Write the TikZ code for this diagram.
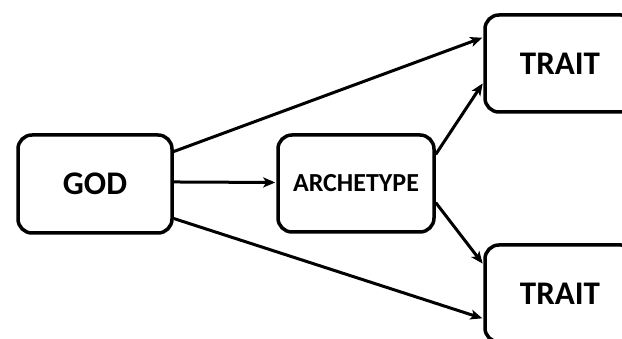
\documentclass[tikz,border=0pt]{standalone}
\usepackage{fontspec}
\setmainfont{Carlito}
\usetikzlibrary{arrows.meta,calc}

\tikzset{
  box/.style={draw=black, line width=3.5pt, rounded corners=14pt, fill=white,
              inner sep=0pt, font=\bfseries, text=black},
  bigtext/.style={font=\bfseries\fontsize{33}{33}\selectfont},
  link/.style={draw=black, line width=3pt,
               -{Stealth[length=12pt,width=10pt,inset=3pt]}, shorten >=1pt}
}

\begin{document}
\begin{tikzpicture}[x=1pt, y=-1pt]
  \useasboundingbox (0,0) rectangle (622,339);

  % the four boxes
  \node[box, bigtext, minimum width=154pt, minimum height=98pt]
        (god) at (95,184) {GOD};
  \node[box, minimum width=156pt, minimum height=97pt, font=\bfseries\fontsize{26}{26}\selectfont]
        (arch) at (356,183.5) {ARCHETYPE};
  \node[box, bigtext, minimum width=150pt, minimum height=97pt]
        (traitA) at (560,63.5) {TRAIT};
  \node[box, bigtext, minimum width=150pt, minimum height=97pt]
        (traitB) at (560,293.5) {TRAIT};

  % connectors
  \draw[link] ($(god.north east)!0.18!(god.south east)$) -- ($(traitA.north west)!0.24!(traitA.south west)$);
  \draw[link] ($(god.north east)!0.48!(god.south east)$) -- ($(arch.north west)!0.49!(arch.south west)$);
  \draw[link] ($(god.north east)!0.84!(god.south east)$) -- ($(traitB.north west)!0.75!(traitB.south west)$);
  \draw[link] ($(arch.north east)!0.21!(arch.south east)$) -- ($(traitA.north west)!0.69!(traitA.south west)$);
  \draw[link] ($(arch.north east)!0.69!(arch.south east)$) -- ($(traitB.north west)!0.21!(traitB.south west)$);
\end{tikzpicture}
\end{document}
